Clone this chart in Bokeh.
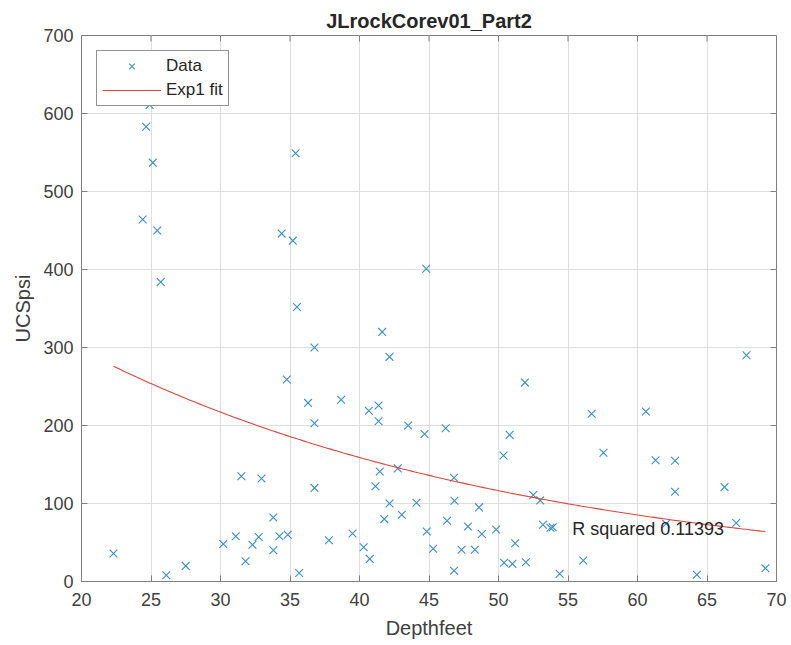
from bokeh.plotting import figure
from bokeh.models import Range1d, FixedTicker, ColumnDataSource, Legend, LegendItem
from bokeh.core.properties import value
from bokeh.embed import file_html
from bokeh.resources import INLINE
import numpy as np

depth = [22.3, 24.4, 24.65, 24.9, 25.13, 25.45, 25.7, 26.1, 27.5, 30.2, 31.1, 31.5, 31.8, 32.3,
         32.75, 32.95, 33.8, 33.8, 34.24, 34.4, 34.77, 34.84, 35.2, 35.4, 35.5, 35.66, 36.3, 36.76,
         36.76, 36.76, 37.8, 38.68, 39.5, 40.3, 40.67, 40.74, 41.15, 41.37, 41.37, 41.46, 41.63,
         41.78, 42.16, 42.16, 42.75, 43.04, 43.5, 44.1, 44.68, 44.8, 44.84, 45.3, 46.2, 46.3, 46.8,
         46.83, 46.8, 47.34, 47.8, 48.3, 48.6, 48.8, 49.83, 50.36, 50.4, 50.8, 51.0, 51.2, 51.9,
         51.97, 52.5, 53.0, 53.2, 53.74, 53.9, 54.4, 56.1, 56.7, 57.55, 60.6, 61.3, 62.06, 62.7,
         62.7, 64.27, 66.26, 67.1, 67.84, 69.2]
ucs = [36, 464, 583, 611, 537, 450, 384, 8, 20, 48, 58, 135, 26, 47,
       57, 132, 82, 40, 58, 446, 259, 60, 437, 549, 352, 11, 229, 300,
       203, 120, 53, 233, 61.5, 44, 219, 29, 122, 225.6, 205.5, 141, 320,
       80, 288, 100, 145, 85.5, 200, 101, 189, 401, 64, 42, 196.5, 78, 133,
       103.5, 13.7, 40.6, 70.5, 40.6, 95, 61, 66.7, 161.5, 24, 188, 22.6, 49, 255,
       24.8, 111, 104, 72.7, 68.8, 69.5, 10, 27, 215, 165, 218, 155.5, 74, 154.7,
       115, 8.6, 121, 75, 290, 17]

# Exp1 fit parameters y = a*exp(b*x)
fit_a = 553.0
fit_b = -0.03116
fit_x_range = [22.3, 69.2]

rsq_label = ["R squared 0.11393"]
rsq_pos = [55.3, 67]

x_ticks = [20, 25, 30, 35, 40, 45, 50, 55, 60, 65, 70]
y_ticks = [0, 100, 200, 300, 400, 500, 600, 700]
x_lim = [20, 70]
y_lim = [0, 700]

FONT = "Liberation Sans"
TXT = "#262626"
LBL = "#404040"
AX = "#808080"

W, H = 791, 645
BL, BR, BT, BB = 81, 15, 35, 64
FRAME_W = W - BL - BR
FRAME_H = H - BT - BB
TICK_PX = 6

p = figure(width=W, height=H, output_backend="svg", toolbar_location=None,
           x_range=Range1d(*x_lim), y_range=Range1d(*y_lim),
           min_border_left=BL, min_border_right=BR, min_border_top=BT, min_border_bottom=BB,
           background_fill_color="white", border_fill_color="white")

p.title.text = "JLrockCorev01_Part2"
p.title.align = "center"
p.title.text_font = FONT
p.title.text_font_size = "20px"
p.title.text_font_style = "bold"
p.title.text_color = TXT
p.title.standoff = 8

p.outline_line_color = AX

for ax, ticks in ((p.xaxis[0], x_ticks), (p.yaxis[0], y_ticks)):
    ax.ticker = FixedTicker(ticks=ticks)
    ax.major_tick_in = TICK_PX
    ax.major_tick_out = 0
    ax.minor_tick_line_color = None
    ax.axis_line_color = AX
    ax.major_tick_line_color = AX
    ax.major_label_text_font = FONT
    ax.major_label_text_font_size = "18px"
    ax.major_label_text_color = LBL
    ax.axis_label_text_font = FONT
    ax.axis_label_text_font_size = "20px"
    ax.axis_label_text_font_style = "normal"
    ax.axis_label_text_color = LBL

p.xaxis[0].axis_label = "Depthfeet"
p.yaxis[0].axis_label = "UCSpsi"
p.xaxis[0].major_label_standoff = 11
p.yaxis[0].major_label_standoff = 8
p.xaxis[0].axis_label_standoff = 8
p.yaxis[0].axis_label_standoff = 6

# inward ticks on the top and right edges of the box (MATLAB "box on")
dy = (y_lim[1] - y_lim[0]) * TICK_PX / FRAME_H
dx = (x_lim[1] - x_lim[0]) * TICK_PX / FRAME_W
p.segment(x0=x_ticks, y0=[y_lim[1]] * len(x_ticks), x1=x_ticks, y1=[y_lim[1] - dy] * len(x_ticks),
          line_color=AX, line_width=1)
p.segment(x0=[x_lim[1]] * len(y_ticks), y0=y_ticks, x1=[x_lim[1] - dx] * len(y_ticks), y1=y_ticks,
          line_color=AX, line_width=1)

p.xgrid.grid_line_color = "#dfdfdf"
p.ygrid.grid_line_color = "#dfdfdf"
p.xgrid.ticker = FixedTicker(ticks=x_ticks)
p.ygrid.ticker = FixedTicker(ticks=y_ticks)

src = ColumnDataSource(dict(x=depth, y=ucs))
r_data = p.scatter("x", "y", source=src, marker="x", size=11, line_color="#3a8ec6", line_width=1.1)

fx = np.linspace(fit_x_range[0], fit_x_range[1], 200)
fy = fit_a * np.exp(fit_b * fx)
r_fit = p.line(fx, fy, line_color="#d9463e", line_width=1.1)

p.text(x=[rsq_pos[0]], y=[rsq_pos[1]], text=rsq_label, text_font=value(FONT),
       text_font_size="18px", text_color=TXT, text_baseline="middle", text_align="left")

legend = Legend(items=[LegendItem(label="Data", renderers=[r_data]),
                       LegendItem(label="Exp1 fit", renderers=[r_fit])],
                location="top_left")
legend.margin = 15
legend.padding = 5
legend.spacing = 4
legend.glyph_width = 59
legend.glyph_height = 20
legend.label_standoff = 5
legend.label_text_font = FONT
legend.label_text_font_size = "17px"
legend.label_text_color = TXT
legend.border_line_color = "#262626"
legend.border_line_width = 1
legend.background_fill_color = "white"
legend.background_fill_alpha = 1
p.add_layout(legend, "center")

open("out.html", "w").write(file_html(p, INLINE))
